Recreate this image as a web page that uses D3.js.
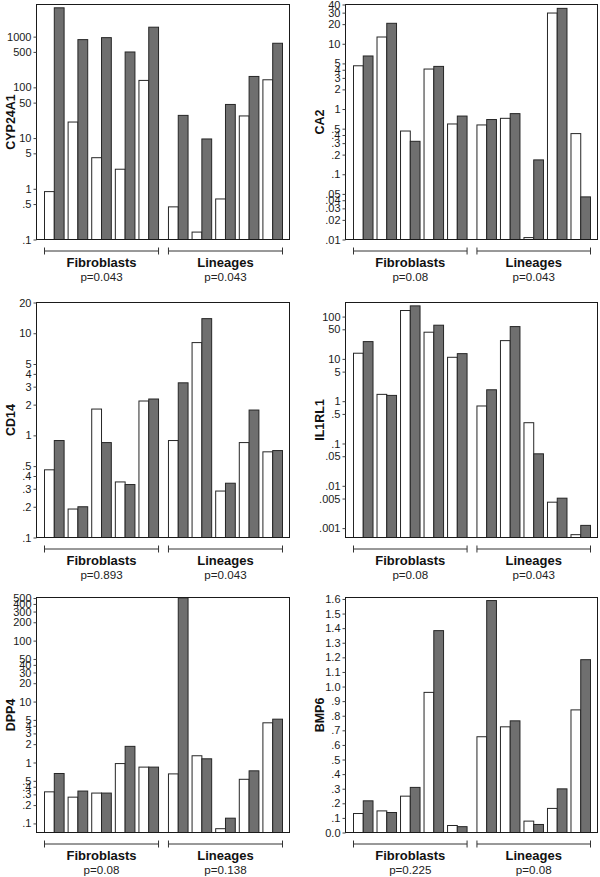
<!DOCTYPE html>
<html><head><meta charset="utf-8">
<script src="https://cdn.jsdelivr.net/npm/d3@7/dist/d3.min.js"></script>
<style>
html,body{margin:0;padding:0;background:#fff;}
svg{display:block;font-family:"Liberation Sans",Arial,Helvetica,sans-serif;}
</style></head>
<body>
<svg id="chart" width="600" height="877"></svg>
<script>
// ---------- data ----------
const genes = ["CYP24A1", "CA2", "CD14", "IL1RL1", "DPP4", "BMP6"];
const groups = ["Fibroblasts", "Lineages"];
const samples = ["1", "2", "3", "4", "5"];
const pFibroblasts = ["p=0.043", "p=0.08", "p=0.893", "p=0.08", "p=0.08", "p=0.225"];
const pLineages   = ["p=0.043", "p=0.043", "p=0.043", "p=0.043", "p=0.138", "p=0.08"];

// first 5 = Fibroblasts, last 5 = Lineages
const whiteCYP24A1 = [0.88, 20.7, 4.1, 2.43, 137, 0.44, 0.14, 0.63, 27.3, 141];
const greyCYP24A1  = [3700, 873, 955, 498, 1535, 28, 9.6, 46, 164, 740];
const whiteCA2 = [4.6, 12.7, 0.46, 4.1, 0.59, 0.57, 0.72, 0.0107, 29.6, 0.42];
const greyCA2  = [6.5, 20.6, 0.32, 4.5, 0.78, 0.69, 0.85, 0.166, 34.9, 0.045];
const whiteCD14 = [0.46, 0.19, 1.81, 0.35, 2.17, 0.89, 8.1, 0.285, 0.85, 0.69];
const greyCD14  = [0.89, 0.20, 0.85, 0.33, 2.27, 3.27, 13.9, 0.34, 1.77, 0.71];
const whiteIL1RL1 = [13.6, 1.45, 139, 42.7, 10.9, 0.77, 27, 0.31, 0.0041, 0.0007];
const greyIL1RL1  = [25.6, 1.37, 179, 62.5, 13.3, 1.86, 58, 0.057, 0.0051, 0.00116];
const whiteDPP4 = [0.33, 0.27, 0.315, 0.96, 0.84, 0.65, 1.29, 0.082, 0.53, 4.48];
const greyDPP4  = [0.66, 0.34, 0.315, 1.84, 0.84, 503, 1.15, 0.122, 0.73, 5.14];
const whiteBMP6 = [0.13, 0.148, 0.249, 0.96, 0.048, 0.656, 0.724, 0.078, 0.165, 0.84];
const greyBMP6  = [0.217, 0.137, 0.309, 1.383, 0.04, 1.589, 0.765, 0.055, 0.299, 1.184];

const ticksCYP24A1 = [1000, 500, 100, 50, 10, 5, 1, 0.5, 0.1];
const ticksCA2 = [40, 30, 20, 10, 5, 4, 3, 2, 1, 0.5, 0.4, 0.3, 0.2, 0.1, 0.05, 0.04, 0.03, 0.02, 0.01];
const ticksCD14 = [20, 10, 5, 4, 3, 2, 1, 0.5, 0.4, 0.3, 0.2, 0.1];
const ticksIL1RL1 = [100, 50, 10, 5, 1, 0.5, 0.1, 0.05, 0.01, 0.005, 0.001];
const ticksDPP4 = [500, 400, 300, 200, 100, 50, 40, 30, 20, 10, 5, 4, 3, 2, 1, 0.5, 0.4, 0.3, 0.2, 0.1];
const ticksBMP6 = [0, 0.1, 0.2, 0.3, 0.4, 0.5, 0.6, 0.7, 0.8, 0.9, 1.0, 1.1, 1.2, 1.3, 1.4, 1.5, 1.6];

const whiteSeries = [whiteCYP24A1, whiteCA2, whiteCD14, whiteIL1RL1, whiteDPP4, whiteBMP6];
const greySeries  = [greyCYP24A1, greyCA2, greyCD14, greyIL1RL1, greyDPP4, greyBMP6];
const tickSets = [ticksCYP24A1, ticksCA2, ticksCD14, ticksIL1RL1, ticksDPP4, ticksBMP6];
const scaleTypes = ["log", "log", "log", "log", "log", "linear"];
const domains = [[0.1, 4300], [0.01, 40], [0.1, 20], [0.0006, 215], [0.071, 510], [0, 1.61]];

// ---------- layout ----------
const colLeft = [36.5, 345.5], colRight = [289.5, 597.5];
const rowTop = [4.5, 302.5, 597.5], rowBottom = [239.5, 537.5, 832.5];
const FILL_GREY = "#6f6f6f", STROKE = "#262626";

const svg = d3.select("#chart");

function fmt(v, linear) {
  if (linear) {
    const s = v.toFixed(1);
    return v >= 1 || v === 0 ? s : s.replace(/^0/, "");
  }
  let s = String(v);
  return s.replace(/^0\./, ".");
}

genes.forEach((gene, i) => {
  const col = i % 2, row = Math.floor(i / 2);
  const x0 = colLeft[col], x1 = colRight[col], y0 = rowTop[row], y1 = rowBottom[row];
  const linear = scaleTypes[i] === "linear";
  const y = (linear ? d3.scaleLinear() : d3.scaleLog()).domain(domains[i]).range([y1, y0]);

  const xGroup = d3.scaleBand().domain(groups).range([x0 + 8, x1 - 7]).paddingInner(0.08);
  const xSample = d3.scaleBand().domain(samples).range([0, xGroup.bandwidth()]).paddingInner(0.17);
  const half = xSample.bandwidth() / 2;

  const g = svg.append("g");

  // bars
  const recs = [];
  groups.forEach((grp, gi) => {
    samples.forEach((s, si) => {
      const k = gi * 5 + si;
      const bx = xGroup(grp) + xSample(s);
      recs.push({x: bx, v: whiteSeries[i][k], fill: "#ffffff"});
      recs.push({x: bx + half, v: greySeries[i][k], fill: FILL_GREY});
    });
  });
  g.selectAll("rect.bar").data(recs).join("rect")
    .attr("class", "bar")
    .attr("x", d => d.x)
    .attr("width", half)
    .attr("y", d => Math.max(y0, y(d.v)))
    .attr("height", d => y1 - Math.max(y0, y(d.v)))
    .attr("fill", d => d.fill)
    .attr("stroke", STROKE)
    .attr("stroke-width", 1);

  // box
  g.append("rect").attr("x", x0).attr("y", y0).attr("width", x1 - x0).attr("height", y1 - y0)
    .attr("fill", "none").attr("stroke", "#1a1a1a").attr("stroke-width", 1);

  // y axis
  const axis = d3.axisLeft(y).tickValues(tickSets[i]).tickSize(3).tickPadding(2)
    .tickFormat(v => fmt(v, linear));
  const ag = g.append("g").attr("transform", `translate(${x0},0)`).call(axis);
  ag.select(".domain").remove();
  ag.selectAll("line").attr("stroke", "#444");
  ag.selectAll("text").attr("font-size", 11).attr("fill", "#1a1a1a")
    .attr("font-family", "'Liberation Sans',Arial,sans-serif");

  // y label
  g.append("text")
    .attr("transform", `translate(${x0 - 22},${(y0 + y1) / 2}) rotate(-90)`)
    .attr("text-anchor", "middle")
    .attr("font-weight", "bold").attr("font-size", 12.5).attr("fill", "#111")
    .text(gene);

  // group brackets and labels
  const by = y1 + 11.5;
  const pvals = [pFibroblasts[i], pLineages[i]];
  groups.forEach((grp, gi) => {
    const gx0 = xGroup(grp), gx1 = xGroup(grp) + xGroup.bandwidth();
    const bg = g.append("g").attr("stroke", "#333").attr("stroke-width", 1);
    bg.append("line").attr("x1", gx0).attr("x2", gx1).attr("y1", by).attr("y2", by);
    bg.append("line").attr("x1", gx0).attr("x2", gx0).attr("y1", by - 3.5).attr("y2", by + 3.5);
    bg.append("line").attr("x1", gx1).attr("x2", gx1).attr("y1", by - 3.5).attr("y2", by + 3.5);
    const cx = (gx0 + gx1) / 2;
    g.append("text").attr("x", cx).attr("y", by + 16).attr("text-anchor", "middle")
      .attr("font-weight", "bold").attr("font-size", 13).attr("fill", "#111").text(grp);
    g.append("text").attr("x", cx).attr("y", by + 30).attr("text-anchor", "middle")
      .attr("font-size", 11.6).attr("fill", "#222").text(pvals[gi]);
  });
});
</script>
</body></html>
